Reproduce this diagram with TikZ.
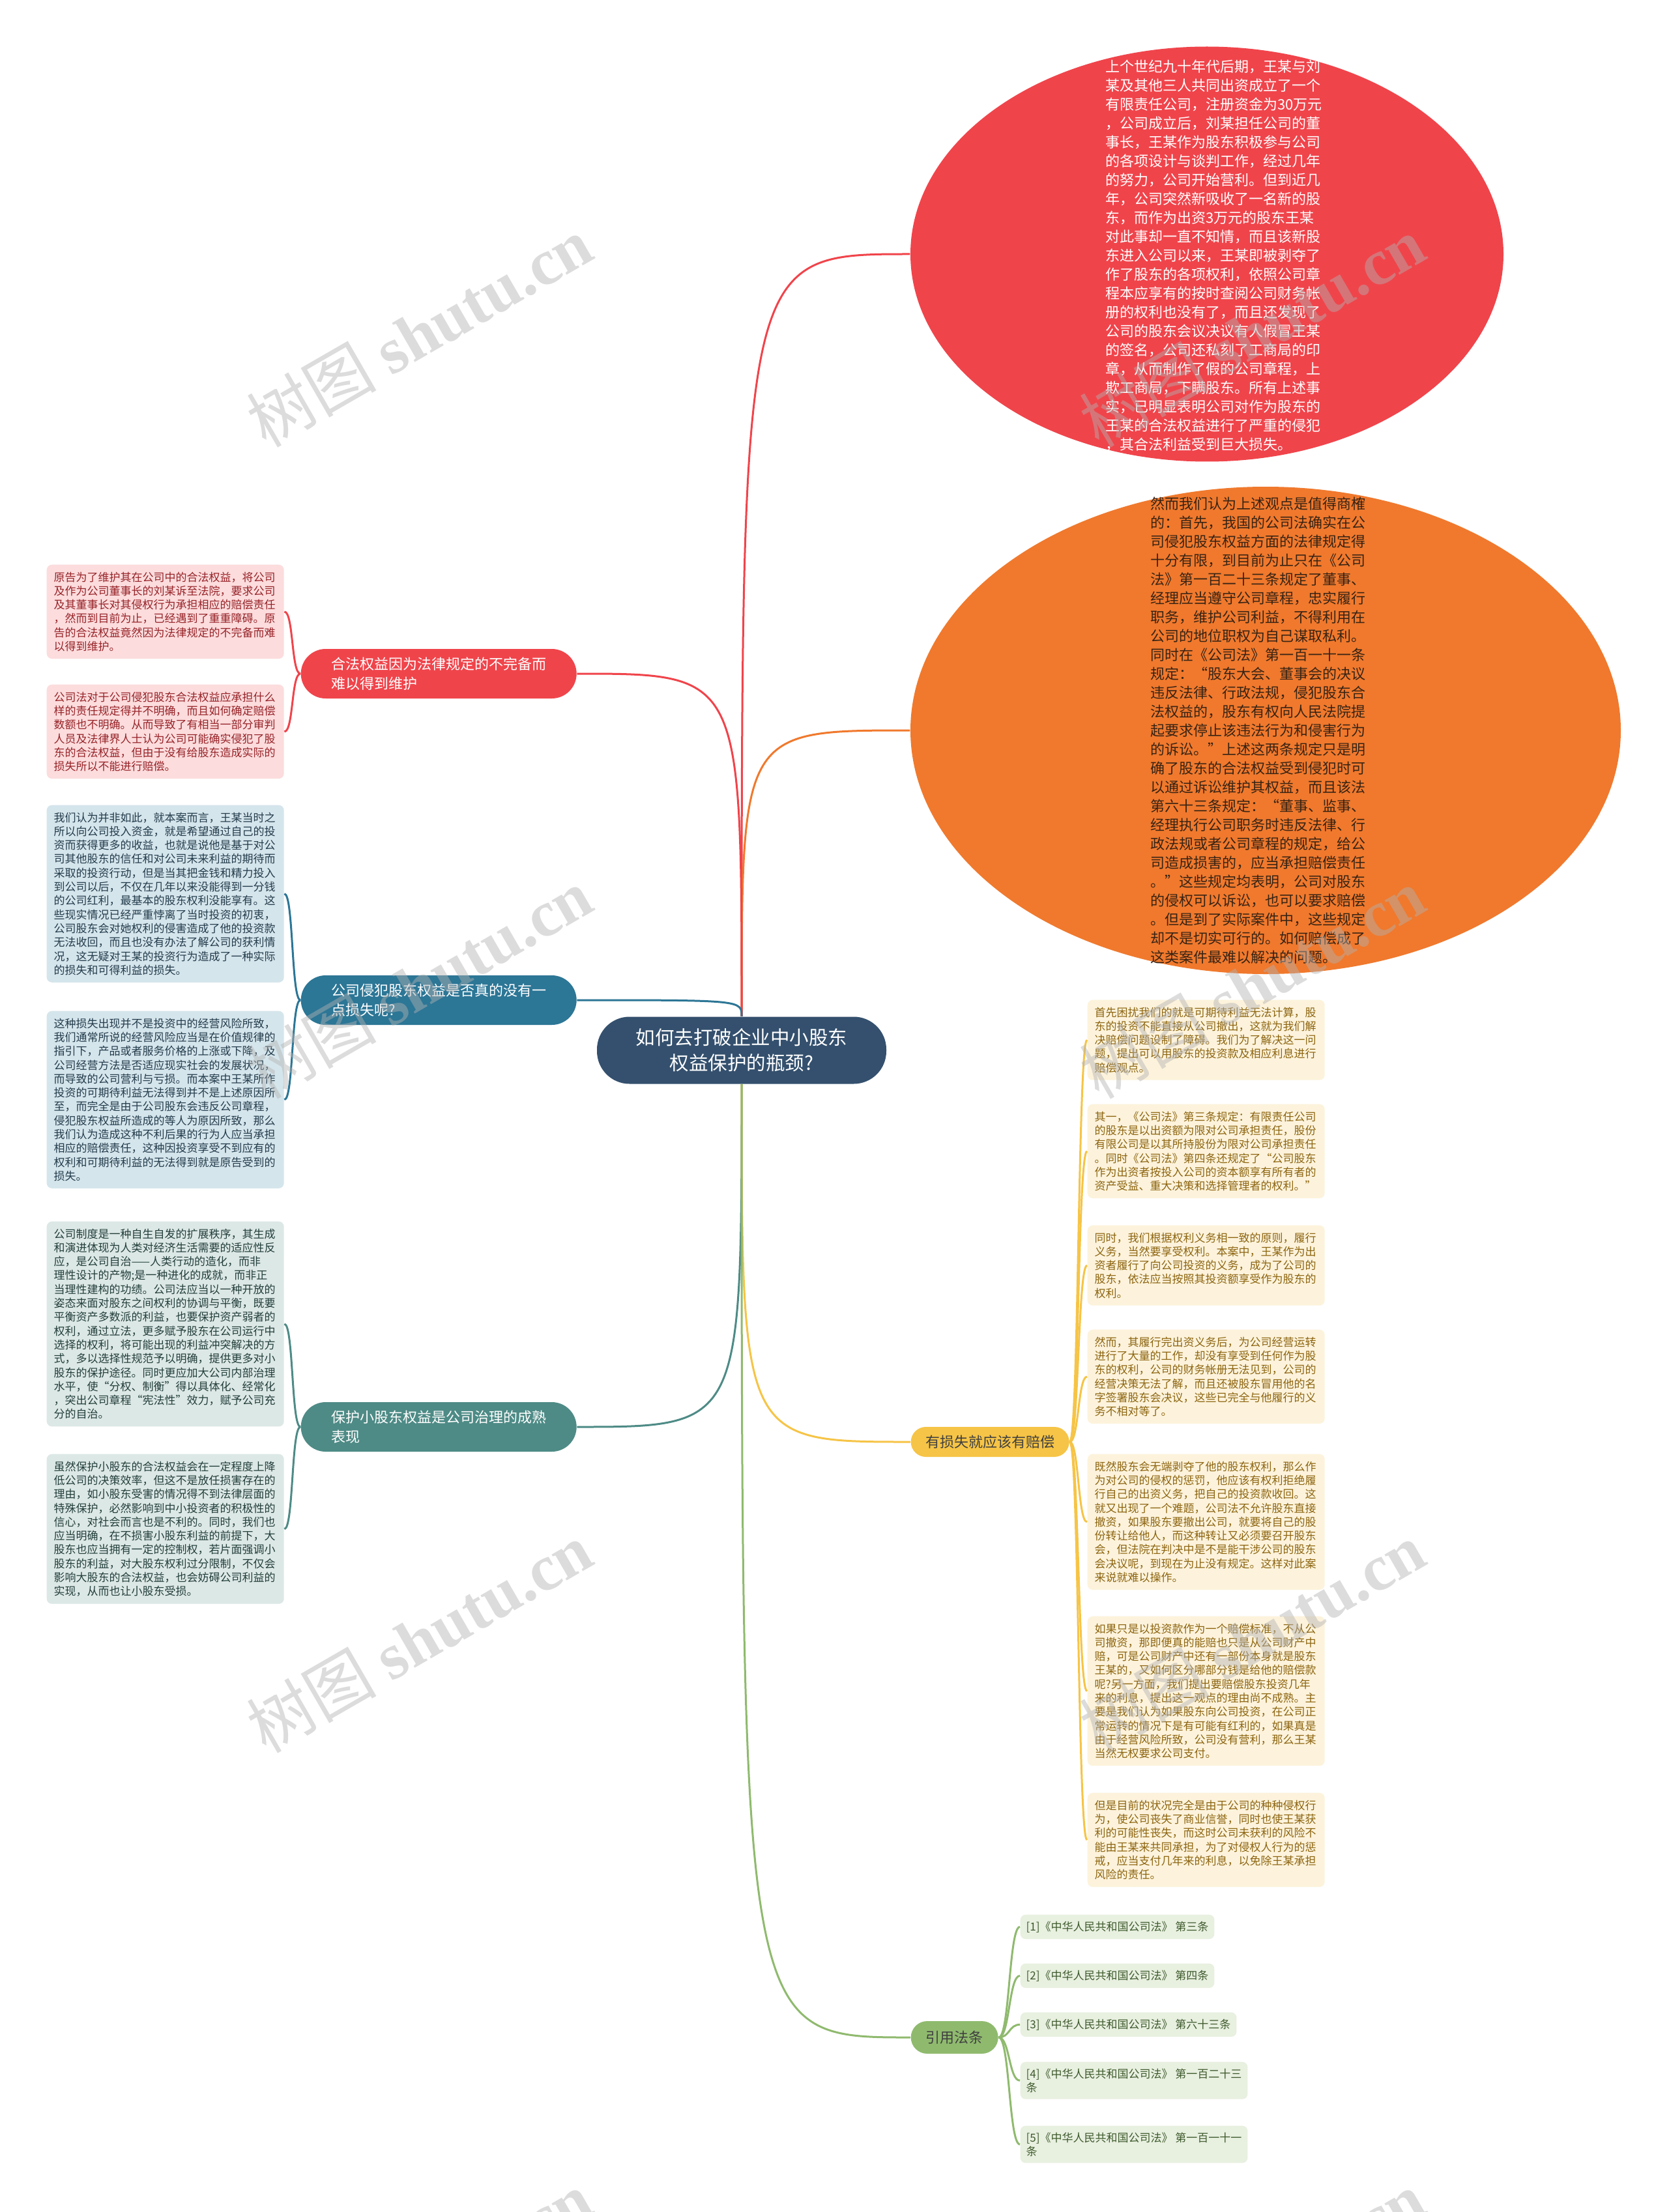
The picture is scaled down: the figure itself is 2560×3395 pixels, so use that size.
\documentclass[tikz,border=0pt]{standalone}
\usepackage{fontspec}
\setmainfont{Noto Sans CJK SC}
\newfontfamily\wmserif{Liberation Serif}
\usepackage{tikz}
\usetikzlibrary{shapes.geometric}
\definecolor{hubblue}{RGB}{52,80,110}
\definecolor{redbr}{RGB}{240,68,75}
\definecolor{orgbr}{RGB}{240,121,45}
\definecolor{bluebr}{RGB}{44,118,150}
\definecolor{tealbr}{RGB}{78,139,134}
\definecolor{yelbr}{RGB}{246,196,70}
\definecolor{grnbr}{RGB}{143,186,110}
\definecolor{pinknote}{RGB}{252,220,221}
\definecolor{pinktext}{RGB}{150,35,40}
\definecolor{bluenote}{RGB}{213,229,236}
\definecolor{bluetext}{RGB}{35,60,75}
\definecolor{tealnote}{RGB}{220,232,230}
\definecolor{tealtext}{RGB}{35,62,58}
\definecolor{yelnote}{RGB}{253,243,220}
\definecolor{yeltext}{RGB}{140,100,15}
\definecolor{grnnote}{RGB}{232,240,224}
\definecolor{grntext}{RGB}{62,90,45}
\definecolor{orgtext}{RGB}{55,35,20}

\begin{document}
\begin{tikzpicture}[x=0.1mm, y=-0.1mm,
  note/.style={rounded corners=0.8mm, inner xsep=1.1mm, inner ysep=1.1mm, text width=34.2mm, align=left, anchor=north west, font=\fontsize{1.7mm}{2.13mm}\selectfont},
  lawref/.style={rounded corners=0.8mm, inner xsep=0.9mm, inner ysep=1mm, align=left, anchor=north west, fill=grnnote, text=grntext, font=\fontsize{1.7mm}{2.13mm}\selectfont},
  branch/.style={rounded corners=3.8mm, minimum width=42.3mm, minimum height=7.6mm, text width=33mm, align=left, anchor=west, text=white, font=\fontsize{2.2mm}{3mm}\selectfont},
  bigtext/.style={text width=34mm, align=left, font=\fontsize{2.2mm}{2.9mm}\selectfont},
  wire/.style={line width=0.3mm},
  wmtext/.style={rotate=30, text=black!30, text opacity=0.45, font=\fontsize{10mm}{10mm}\selectfont}]
\fill[white] (0,0) rectangle (2560,3395);
\useasboundingbox (0,0) rectangle (2560,3395);

% centre
\node[fill=hubblue, text=white, rounded corners=5mm, minimum width=44.4mm, minimum height=10.3mm, align=center, font=\fontsize{2.95mm}{3.9mm}\selectfont] (hub) at (1138,1612) {如何去打破企业中小股东\\权益保护的瓶颈?};

% right top: case and opinion
\node[ellipse, fill=redbr, minimum width=91mm, minimum height=63.7mm, inner sep=0] (redell) at (1852,390) {};
\node[bigtext, text=white] (redtxt) at (1866,392) {上个世纪九十年代后期，王某与刘\\某及其他三人共同出资成立了一个\\有限责任公司，注册资金为30万元\\，公司成立后，刘某担任公司的董\\事长，王某作为股东积极参与公司\\的各项设计与谈判工作，经过几年\\的努力，公司开始营利。但到近几\\年，公司突然新吸收了一名新的股\\东，而作为出资3万元的股东王某\\对此事却一直不知情，而且该新股\\东进入公司以来，王某即被剥夺了\\作了股东的各项权利，依照公司章\\程本应享有的按时查阅公司财务帐\\册的权利也没有了，而且还发现了\\公司的股东会议决议有人假冒王某\\的签名，公司还私刻了工商局的印\\章，从而制作了假的公司章程，上\\欺工商局，下瞒股东。所有上述事\\实，已明显表明公司对作为股东的\\王某的合法权益进行了严重的侵犯\\，其合法利益受到巨大损失。};
\node[ellipse, fill=orgbr, minimum width=109mm, minimum height=74.8mm, inner sep=0] (orgell) at (1942,1121) {};
\node[bigtext, text=orgtext] (orgtxt) at (1935,1121) {然而我们认为上述观点是值得商榷\\的：首先，我国的公司法确实在公\\司侵犯股东权益方面的法律规定得\\十分有限，到目前为止只在《公司\\法》第一百二十三条规定了董事、\\经理应当遵守公司章程，忠实履行\\职务，维护公司利益，不得利用在\\公司的地位职权为自己谋取私利。\\同时在《公司法》第一百一十一条\\规定：“股东大会、董事会的决议\\违反法律、行政法规，侵犯股东合\\法权益的，股东有权向人民法院提\\起要求停止该违法行为和侵害行为\\的诉讼。”上述这两条规定只是明\\确了股东的合法权益受到侵犯时可\\以通过诉讼维护其权益，而且该法\\第六十三条规定：“董事、监事、\\经理执行公司职务时违反法律、行\\政法规或者公司章程的规定，给公\\司造成损害的，应当承担赔偿责任\\。”这些规定均表明，公司对股东\\的侵权可以诉讼，也可以要求赔偿\\。但是到了实际案件中，这些规定\\却不是切实可行的。如何赔偿成了\\这类案件最难以解决的问题。};

% left branches
\node[branch, fill=redbr] (lawgap) at (461,1034) {合法权益因为法律规定的不完备而\\难以得到维护};
\node[branch, fill=bluebr] (lossq) at (461,1535) {公司侵犯股东权益是否真的没有一\\点损失呢?};
\node[branch, fill=tealbr] (govern) at (461,2190) {保护小股东权益是公司治理的成熟\\表现};

\node[note, fill=pinknote, text=pinktext] (gap1) at (71,866) {原告为了维护其在公司中的合法权益，将公司\\及作为公司董事长的刘某诉至法院，要求公司\\及其董事长对其侵权行为承担相应的赔偿责任\\，然而到目前为止，已经遇到了重重障碍。原\\告的合法权益竟然因为法律规定的不完备而难\\以得到维护。};
\node[note, fill=pinknote, text=pinktext] (gap2) at (71,1050) {公司法对于公司侵犯股东合法权益应承担什么\\样的责任规定得并不明确，而且如何确定赔偿\\数额也不明确。从而导致了有相当一部分审判\\人员及法律界人士认为公司可能确实侵犯了股\\东的合法权益，但由于没有给股东造成实际的\\损失所以不能进行赔偿。};
\node[note, fill=bluenote, text=bluetext] (loss1) at (71,1235) {我们认为并非如此，就本案而言，王某当时之\\所以向公司投入资金，就是希望通过自己的投\\资而获得更多的收益，也就是说他是基于对公\\司其他股东的信任和对公司未来利益的期待而\\采取的投资行动，但是当其把金钱和精力投入\\到公司以后，不仅在几年以来没能得到一分钱\\的公司红利，最基本的股东权利没能享有。这\\些现实情况已经严重悖离了当时投资的初衷，\\公司股东会对她权利的侵害造成了他的投资款\\无法收回，而且也没有办法了解公司的获利情\\况，这无疑对王某的投资行为造成了一种实际\\的损失和可得利益的损失。};
\node[note, fill=bluenote, text=bluetext] (loss2) at (71,1551) {这种损失出现并不是投资中的经营风险所致，\\我们通常所说的经营风险应当是在价值规律的\\指引下，产品或者服务价格的上涨或下降，及\\公司经营方法是否适应现实社会的发展状况，\\而导致的公司营利与亏损。而本案中王某所作\\投资的可期待利益无法得到并不是上述原因所\\至，而完全是由于公司股东会违反公司章程，\\侵犯股东权益所造成的等人为原因所致，那么\\我们认为造成这种不利后果的行为人应当承担\\相应的赔偿责任，这种因投资享受不到应有的\\权利和可期待利益的无法得到就是原告受到的\\损失。};
\node[note, fill=tealnote, text=tealtext] (gov1) at (71,1874) {公司制度是一种自生自发的扩展秩序，其生成\\和演进体现为人类对经济生活需要的适应性反\\应，是公司自治——人类行动的造化，而非\\理性设计的产物;是一种进化的成就，而非正\\当理性建构的功绩。公司法应当以一种开放的\\姿态来面对股东之间权利的协调与平衡，既要\\平衡资产多数派的利益，也要保护资产弱者的\\权利，通过立法，更多赋予股东在公司运行中\\选择的权利，将可能出现的利益冲突解决的方\\式，多以选择性规范予以明确，提供更多对小\\股东的保护途径。同时更应加大公司内部治理\\水平，使“分权、制衡”得以具体化、经常化\\，突出公司章程“宪法性”效力，赋予公司充\\分的自治。};
\node[note, fill=tealnote, text=tealtext] (gov2) at (71,2231) {虽然保护小股东的合法权益会在一定程度上降\\低公司的决策效率，但这不是放任损害存在的\\理由，如小股东受害的情况得不到法律层面的\\特殊保护，必然影响到中小投资者的积极性的\\信心，对社会而言也是不利的。同时，我们也\\应当明确，在不损害小股东利益的前提下，大\\股东也应当拥有一定的控制权，若片面强调小\\股东的利益，对大股东权利过分限制，不仅会\\影响大股东的合法权益，也会妨碍公司利益的\\实现，从而也让小股东受损。};

% right lower branches
\node[fill=yelbr, text=black!75, rounded corners=2.3mm, minimum width=24.3mm, minimum height=4.6mm, anchor=west, font=\fontsize{2.2mm}{3mm}\selectfont] (comp) at (1397,2213) {有损失就应该有赔偿};
\node[fill=grnbr, text=black!75, rounded corners=2.5mm, minimum width=13.4mm, minimum height=5mm, anchor=west, font=\fontsize{2.2mm}{3mm}\selectfont] (laws) at (1397,3127) {引用法条};

\node[note, fill=yelnote, text=yeltext] (comp1) at (1668,1534) {首先困扰我们的就是可期待利益无法计算，股\\东的投资不能直接从公司撤出，这就为我们解\\决赔偿问题设制了障碍。我们为了解决这一问\\题，提出可以用股东的投资款及相应利息进行\\赔偿观点。};
\node[note, fill=yelnote, text=yeltext] (comp2) at (1668,1694) {其一，《公司法》第三条规定：有限责任公司\\的股东是以出资额为限对公司承担责任，股份\\有限公司是以其所持股份为限对公司承担责任\\。同时《公司法》第四条还规定了“公司股东\\作为出资者按投入公司的资本额享有所有者的\\资产受益、重大决策和选择管理者的权利。”};
\node[note, fill=yelnote, text=yeltext] (comp3) at (1668,1880) {同时，我们根据权利义务相一致的原则，履行\\义务，当然要享受权利。本案中，王某作为出\\资者履行了向公司投资的义务，成为了公司的\\股东，依法应当按照其投资额享受作为股东的\\权利。};
\node[note, fill=yelnote, text=yeltext] (comp4) at (1668,2040) {然而，其履行完出资义务后，为公司经营运转\\进行了大量的工作，却没有享受到任何作为股\\东的权利，公司的财务帐册无法见到，公司的\\经营决策无法了解，而且还被股东冒用他的名\\字签署股东会决议，这些已完全与他履行的义\\务不相对等了。};
\node[note, fill=yelnote, text=yeltext] (comp5) at (1668,2231) {既然股东会无端剥夺了他的股东权利，那么作\\为对公司的侵权的惩罚，他应该有权利拒绝履\\行自己的出资义务，把自己的投资款收回。这\\就又出现了一个难题，公司法不允许股东直接\\撤资，如果股东要撤出公司，就要将自己的股\\份转让给他人，而这种转让又必须要召开股东\\会，但法院在判决中是不是能干涉公司的股东\\会决议呢，到现在为止没有规定。这样对此案\\来说就难以操作。};
\node[note, fill=yelnote, text=yeltext] (comp6) at (1668,2480) {如果只是以投资款作为一个赔偿标准，不从公\\司撤资，那即便真的能赔也只是从公司财产中\\赔，可是公司财产中还有一部份本身就是股东\\王某的，又如何区分哪部分钱是给他的赔偿款\\呢?另一方面，我们提出要赔偿股东投资几年\\来的利息，提出这一观点的理由尚不成熟。主\\要是我们认为如果股东向公司投资，在公司正\\常运转的情况下是有可能有红利的，如果真是\\由于经营风险所致，公司没有营利，那么王某\\当然无权要求公司支付。};
\node[note, fill=yelnote, text=yeltext] (comp7) at (1668,2751) {但是目前的状况完全是由于公司的种种侵权行\\为，使公司丧失了商业信誉，同时也使王某获\\利的可能性丧失，而这时公司未获利的风险不\\能由王某来共同承担，为了对侵权人行为的惩\\戒，应当支付几年来的利息，以免除王某承担\\风险的责任。};

\node[lawref] (law1) at (1565,2938) {[1]《中华人民共和国公司法》 第三条};
\node[lawref] (law2) at (1565,3013) {[2]《中华人民共和国公司法》 第四条};
\node[lawref] (law3) at (1565,3088) {[3]《中华人民共和国公司法》 第六十三条};
\node[lawref] (law4) at (1565,3164) {[4]《中华人民共和国公司法》 第一百二十三\\条};
\node[lawref] (law5) at (1565,3262) {[5]《中华人民共和国公司法》 第一百一十一\\条};

% connectors from the centre
\draw[wire, redbr] (hub.north) .. controls (hub.north |- redell.west) .. (redell.west);
\draw[wire, orgbr] (hub.north) .. controls (hub.north |- orgell.west) .. (orgell.west);
\draw[wire, redbr] (hub.north) .. controls (hub.north |- lawgap.east) .. (lawgap.east);
\draw[wire, bluebr] (hub.north) .. controls (hub.north |- lossq.east) .. (lossq.east);
\draw[wire, tealbr] (hub.south) .. controls (hub.south |- govern.east) .. (govern.east);
\draw[wire, yelbr] (hub.south) .. controls (hub.south |- comp.west) .. (comp.west);
\draw[wire, grnbr] (hub.south) .. controls (hub.south |- laws.west) .. (laws.west);

% brackets to the notes
\foreach \n in {gap1,gap2}
  \draw[wire, redbr] (lawgap.west) .. controls +(-14,0) and +(14,0) .. (\n.east);
\foreach \n in {loss1,loss2}
  \draw[wire, bluebr] (lossq.west) .. controls +(-14,0) and +(14,0) .. (\n.east);
\foreach \n in {gov1,gov2}
  \draw[wire, tealbr] (govern.west) .. controls +(-14,0) and +(14,0) .. (\n.east);
\foreach \n in {comp1,comp2,comp3,comp4,comp5,comp6,comp7}
  \draw[wire, yelbr] (comp.east) .. controls +(14,0) and +(-14,0) .. (\n.west);
\foreach \n in {law1,law2,law3,law4,law5}
  \draw[wire, grnbr] (laws.east) .. controls +(17,0) and +(-17,0) .. (\n.west);

% watermark
\foreach \wx in {643,1921}
  \foreach \wy in {509,1509,2513,3509}
    \node[wmtext] at (\wx,\wy) {树图 {\wmserif\bfseries shutu.cn}};
\end{tikzpicture}
\end{document}
